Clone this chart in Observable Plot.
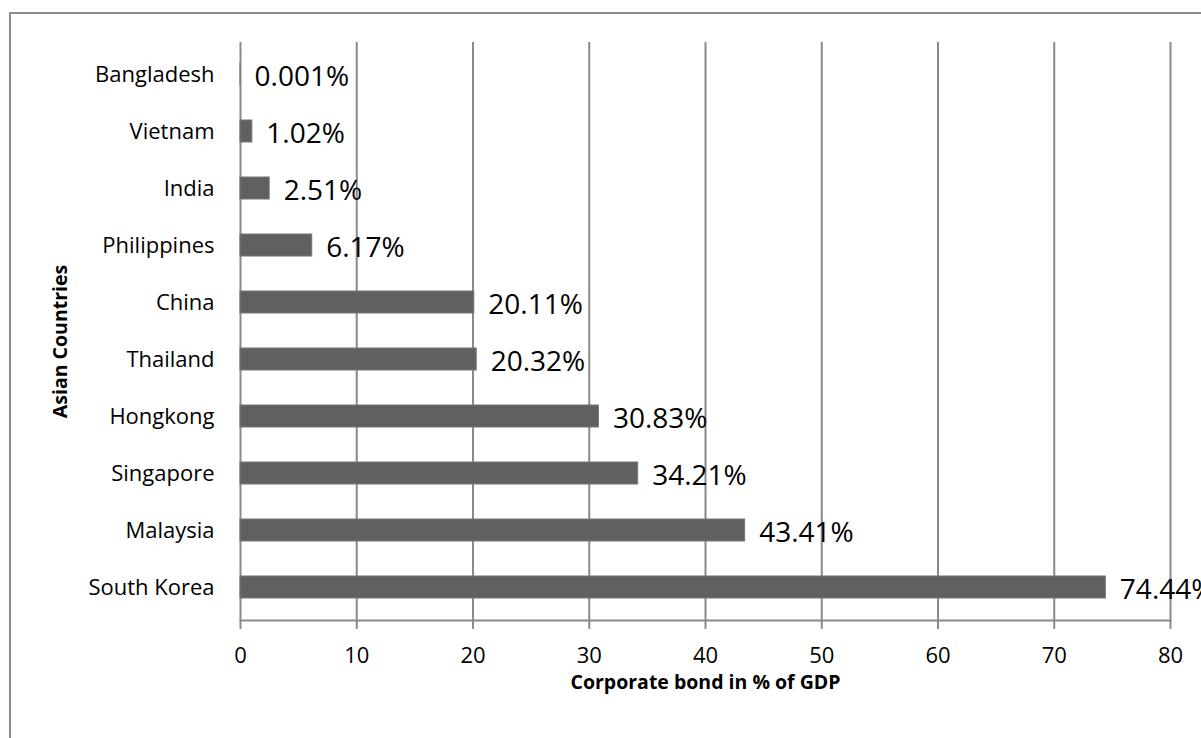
<!DOCTYPE html>
<html>
<head>
<meta charset="utf-8">
<script src="https://cdn.jsdelivr.net/npm/d3@7"></script>
<script src="https://cdn.jsdelivr.net/npm/@observablehq/plot@0.6"></script>
<style>
  html, body { margin: 0; padding: 0; background: #fff; }
  #wrap { position: relative; width: 1201px; height: 738px; overflow: hidden; }
  #border { position: absolute; left: 9px; top: 12px; width: 1300px; height: 800px;
            border-left: 2px solid #8c8c8c; border-top: 2px solid #8c8c8c; box-sizing: border-box; }
  #chart { position: absolute; left: 0; top: 0; }
</style>
</head>
<body>
<div id="wrap"><div id="border"></div><div id="chart"></div></div>
<script>
const countries = ["Bangladesh", "Vietnam", "India", "Philippines", "China", "Thailand", "Hongkong", "Singapore", "Malaysia", "South Korea"];
const values = [0.001, 1.02, 2.51, 6.17, 20.11, 20.32, 30.83, 34.21, 43.41, 74.44];
const labels = ["0.001%", "1.02%", "2.51%", "6.17%", "20.11%", "20.32%", "30.83%", "34.21%", "43.41%", "74.44%"];
const xTicks = [0, 10, 20, 30, 40, 50, 60, 70, 80];
const xTitle = "Corporate bond in % of GDP";
const yTitle = "Asian Countries";

const data = countries.map((c, i) => ({country: c, value: values[i], label: labels[i]}));
const gridColor = "#8a8a8a";

const chart = Plot.plot({
  width: 1201,
  height: 738,
  marginLeft: 240,
  marginRight: 31,
  marginTop: 42,
  marginBottom: 118,
  style: {fontFamily: "'Open Sans', sans-serif", background: "transparent", overflow: "visible"},
  x: {domain: [0, 80], ticks: xTicks},
  y: {domain: countries, paddingInner: 0.61, paddingOuter: 0.305},
  marks: [
    Plot.ruleX(xTicks, {x: d => d, stroke: gridColor, strokeWidth: 2}),
    Plot.frame({anchor: "bottom", stroke: gridColor, strokeWidth: 2}),
    Plot.axisX({ticks: xTicks, tickSize: 9, tickPadding: 18, stroke: gridColor, strokeWidth: 2,
                fontSize: 22, fill: "#000", label: null, tickFormat: d => String(d)}),
    Plot.axisY({tickSize: 0, tickPadding: 26, fontSize: 22, fill: "#000", label: null}),
    Plot.barX(data, {x: "value", y: "country", fill: "#606060", stroke: "#777", strokeWidth: 1}),
    Plot.text(data, {x: "value", y: "country", text: "label", textAnchor: "start", dx: 14, dy: 3,
                     fontSize: 28, fill: "#000"}),
    Plot.text([xTitle], {frameAnchor: "bottom", dy: 68, text: d => d, textAnchor: "middle", fontSize: 19.5, fontWeight: "bold", fill: "#000"}),
    Plot.text([yTitle], {frameAnchor: "left", dx: -180, dy: 10, rotate: -90, textAnchor: "middle", text: d => d, fontSize: 19.5, fontWeight: "bold", fill: "#000"})
  ]
});
document.getElementById("chart").appendChild(chart);
</script>
</body>
</html>
